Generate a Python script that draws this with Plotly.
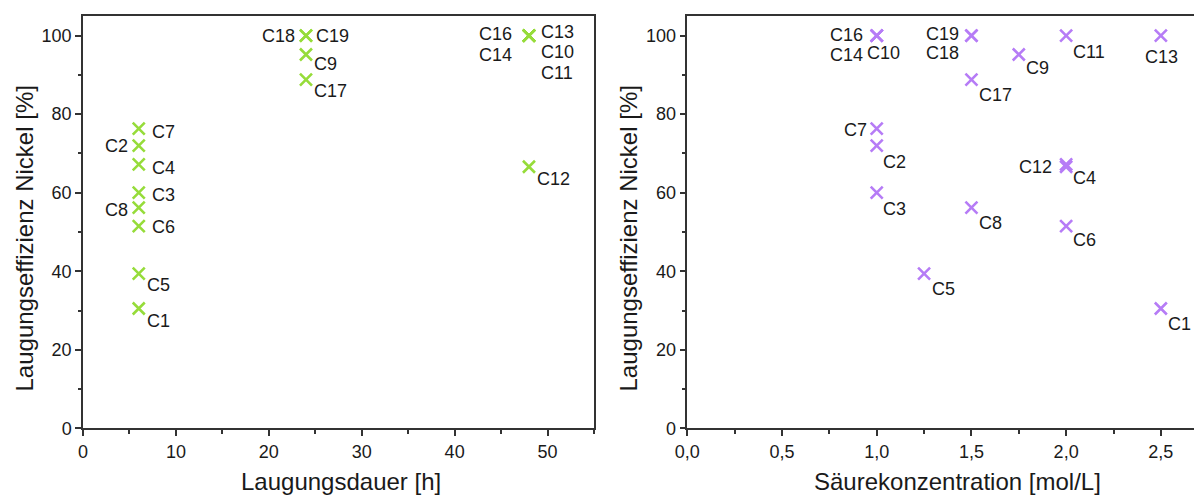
import plotly.graph_objects as go

# ---- data ----
samples = ["C1", "C2", "C3", "C4", "C5", "C6", "C7", "C8", "C9", "C10",
           "C11", "C12", "C13", "C14", "C16", "C17", "C18", "C19"]
duration_h = [6, 6, 6, 6, 6, 6, 6, 6, 24, 48,
              48, 48, 48, 48, 48, 24, 24, 24]
acid_mol_l = [2.5, 1.0, 1.0, 2.0, 1.25, 2.0, 1.0, 1.5, 1.75, 1.0,
              2.0, 2.0, 2.5, 1.0, 1.0, 1.5, 1.5, 1.5]
efficiency_pct = [30.5, 72.0, 60.0, 67.2, 39.4, 51.5, 76.3, 56.2, 95.2, 100.0,
                  100.0, 66.6, 100.0, 100.0, 100.0, 88.8, 100.0, 100.0]

# label placement (anchor, x shift px, y shift px)
place_left = {
    "C1": ("left", 6, -12), "C2": ("right", -9, 0), "C3": ("left", 11, -2),
    "C4": ("left", 11, -4), "C5": ("left", 6, -11), "C6": ("left", 11, -1),
    "C7": ("left", 11, -3), "C8": ("right", -9, -2), "C9": ("left", 6, -10),
    "C10": ("left", 10, -16), "C11": ("left", 10, -37), "C12": ("left", 6, -12),
    "C13": ("left", 10, 4), "C14": ("right", -15, -19), "C16": ("right", -15, 2),
    "C17": ("left", 6, -11), "C18": ("right", -9, 0), "C19": ("left", 8, 0),
}
place_right = {
    "C1": ("left", 5, -15), "C2": ("left", 4, -16), "C3": ("left", 4, -16),
    "C4": ("left", 5, -14), "C5": ("left", 6, -15), "C6": ("left", 5, -14),
    "C7": ("right", -8, -1), "C8": ("left", 6, -15), "C9": ("left", 5, -14),
    "C10": ("center", 7, -17), "C11": ("left", 5, -16), "C12": ("right", -12, 0),
    "C13": ("center", 1, -21), "C14": ("right", -12, -19), "C16": ("right", -12, 1),
    "C17": ("left", 6, -15), "C18": ("right", -10, -17), "C19": ("right", -10, 2),
}

GREEN = "#96dc3a"
PURPLE = "#b67cf6"
FONT = "Liberation Sans, Arial, sans-serif"
AXIS_COL = "#333333"
TXT = "#1a1a1a"
LBL = 18
TICK = 18
TITLE = 24
Y_TITLE = "Laugungseffizienz Nickel [%]"

W, H = 1194, 497

fig = go.Figure()
fig.add_trace(go.Scatter(
    x=duration_h, y=efficiency_pct, mode="markers", xaxis="x", yaxis="y",
    marker=dict(symbol="x-thin", size=12, line=dict(width=2.6, color=GREEN)),
    showlegend=False, hoverinfo="skip"))
fig.add_trace(go.Scatter(
    x=acid_mol_l, y=efficiency_pct, mode="markers", xaxis="x2", yaxis="y2",
    marker=dict(symbol="x-thin", size=12, line=dict(width=2.6, color=PURPLE)),
    showlegend=False, hoverinfo="skip"))

annotations = []
for n, xv, yv in zip(samples, duration_h, efficiency_pct):
    a, dx, dy = place_left[n]
    annotations.append(dict(x=xv, y=yv, xref="x", yref="y", text=n, showarrow=False,
                            xanchor=a, yanchor="middle", xshift=dx, yshift=dy,
                            font=dict(family=FONT, size=LBL, color=TXT)))
for n, xv, yv in zip(samples, acid_mol_l, efficiency_pct):
    a, dx, dy = place_right[n]
    annotations.append(dict(x=xv, y=yv, xref="x2", yref="y2", text=n, showarrow=False,
                            xanchor=a, yanchor="middle", xshift=dx, yshift=dy,
                            font=dict(family=FONT, size=LBL, color=TXT)))
# axis titles
annotations.append(dict(x=957.5 / W, y=(H - 481) / H, xref="paper", yref="paper",
                        text="Säurekonzentration [mol/L]", showarrow=False,
                        xanchor="center", yanchor="middle",
                        font=dict(family=FONT, size=TITLE, color=TXT)))
annotations.append(dict(x=340.5 / W, y=(H - 481) / H, xref="paper", yref="paper",
                        text="Laugungsdauer [h]", showarrow=False,
                        xanchor="center", yanchor="middle",
                        font=dict(family=FONT, size=TITLE, color=TXT)))
for xc in (24, 628):
    annotations.append(dict(x=xc / W, y=(H - 238.5) / H, xref="paper", yref="paper",
                            text=Y_TITLE, showarrow=False, textangle=-90,
                            xanchor="center", yanchor="middle",
                            font=dict(family=FONT, size=TITLE, color=TXT)))

common = dict(showgrid=False, zeroline=False, showline=True, linecolor=AXIS_COL,
              linewidth=1.5, ticks="outside", ticklen=6, tickwidth=1.5, automargin=False,
              tickcolor=AXIS_COL, tickfont=dict(family=FONT, size=TICK, color=TXT))
minor_common = dict(ticks="outside", ticklen=3.5, tickwidth=1.5, tickcolor=AXIS_COL)

fig.update_layout(
    width=W, height=H, margin=dict(l=0, r=0, t=0, b=0),
    paper_bgcolor="white", plot_bgcolor="white", separators=",.",
    annotations=annotations,
    xaxis=dict(domain=[83 / W, 594 / W], range=[0, 55], dtick=10, mirror=True,
               minor=dict(dtick=5, **minor_common), anchor="y", **common),
    yaxis=dict(domain=[(H - 428.3) / H, (H - 16) / H], range=[0, 105], dtick=20, mirror=True,
               minor=dict(dtick=10, **minor_common), anchor="x", **common),
    xaxis2=dict(domain=[687.3 / W, 1.0], range=[0, 2.675], dtick=0.5, tickformat=".1f", mirror=True,
                minor=dict(dtick=0.25, **minor_common), anchor="y2", **common),
    yaxis2=dict(domain=[(H - 428.3) / H, (H - 16) / H], range=[0, 105], dtick=20, mirror=False,
                minor=dict(dtick=10, **minor_common), anchor="x2", **common),
)

fig.write_html("out.html")
